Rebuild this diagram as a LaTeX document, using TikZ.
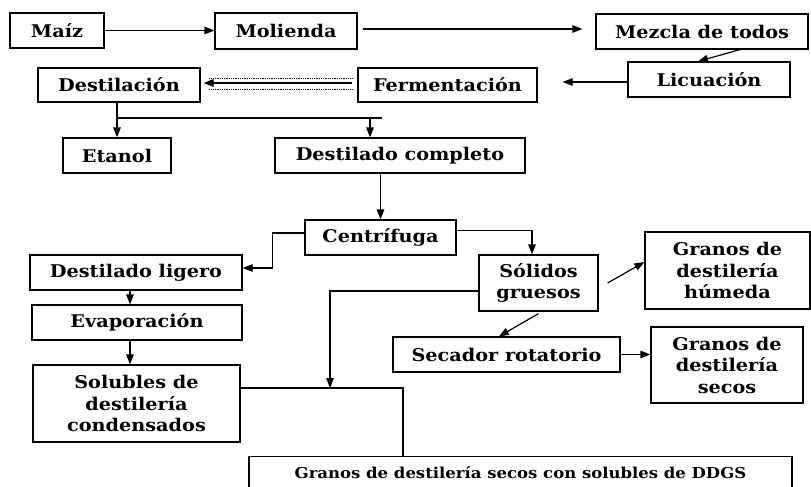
\documentclass[tikz,border=0pt]{standalone}
\usepackage{fontspec}
\setmainfont{DejaVu Serif}[FakeStretch=1.1]
\usetikzlibrary{arrows.meta,calc}
\begin{document}
\begin{tikzpicture}[x=1pt,y=-1pt,
  box/.style={draw=black, line width=1.2pt, inner sep=0pt, align=center,
    font=\fontsize{17.5}{21.5}\selectfont\bfseries, text=black},
  arr/.style={-{Triangle[length=10pt,width=7.5pt]}, line width=1.2pt},
  ln/.style={line width=1.2pt},
  dotl/.style={densely dotted, line width=0.8pt}]
\useasboundingbox (0,0) rectangle (811,487);
\fill[white] (0,0) rectangle (811,487);
% row 1
\node[box, minimum width=94pt, minimum height=35pt] (maiz) at (57,30.5) {Maíz};
\node[box, minimum width=142pt, minimum height=36pt] (molienda) at (286,31) {Molienda};
\node[box, minimum width=212pt, minimum height=35pt] (mezcla) at (702,31.5) {Mezcla de todos};
% row 2
\node[box, minimum width=162pt, minimum height=35pt] (licuacion) at (709,79.5) {Licuación};
\node[box, minimum width=179pt, minimum height=34pt] (ferment) at (447.5,85) {Fermentación};
\node[box, minimum width=162pt, minimum height=34pt] (destilacion) at (119,85) {Destilación};
% row 3
\node[box, minimum width=108pt, minimum height=35pt] (etanol) at (117,155.5) {Etanol};
\node[box, minimum width=250pt, minimum height=35pt] (destcomp) at (400,155.5) {Destilado completo};
% centrifuga
\node[box, minimum width=151pt, minimum height=35pt] (centrifuga) at (380.5,237.5) {Centrífuga};
% left column
\node[box, minimum width=212pt, minimum height=35pt] (destlig) at (136,272.5) {Destilado ligero};
\node[box, minimum width=210pt, minimum height=35pt] (evap) at (137,322.5) {Evaporación};
\node[box, minimum width=207pt, minimum height=77pt] (solubles) at (136.5,403.5) {Solubles de\\destilería\\condensados};
% right side
\node[box, minimum width=119pt, minimum height=56pt] (solidos) at (538.5,283) {Sólidos\\gruesos};
\node[box, minimum width=165pt, minimum height=77pt] (humeda) at (727.5,270.5) {Granos de\\destilería\\húmeda};
\node[box, minimum width=227pt, minimum height=35pt] (secador) at (506.5,354.5) {Secador rotatorio};
\node[box, minimum width=152pt, minimum height=76pt] (secos) at (727,365) {Granos de\\destilería\\secos};
% bottom
\node[box, font=\fontsize{15}{19}\selectfont\bfseries, minimum width=543pt, minimum height=33pt] (ddgs) at (520.5,473) {Granos de destilería secos con solubles de DDGS};
% coordinates
\coordinate (br) at (117,118);
\coordinate (brend) at (382,118);
\coordinate (brdrop) at (370,118);
\coordinate (mergept) at (330,388);
\coordinate (ddgsjoin) at (403,456.5);
% connectors
\draw[arr] (maiz.east) -- (maiz.east -| molienda.west);
\draw[arr, shorten >=13pt] ($(molienda.east)+(5,-2)$) -- ($(molienda.east -| mezcla.west)+(0,-2)$);
\draw[arr] ($(mezcla.south)+(38,0)$) -- ($(licuacion.north)+(-11,0)$);
\draw[arr, shorten >=25pt] ($(licuacion.west)+(0,2.5)$) -- ($(licuacion.west -| ferment.east)+(0,2.5)$);
\draw[arr, shorten <=5pt, shorten >=3pt] ($(ferment.west)+(0,-2)$) -- ($(destilacion.east)+(0,-2)$);
\draw[dotl, shorten <=5pt, shorten >=8pt] ($(ferment.west)+(0,-7)$) -- ($(destilacion.east)+(0,-7)$);
\draw[dotl, shorten <=5pt, shorten >=8pt] ($(ferment.west)+(0,4)$) -- ($(destilacion.east)+(0,4)$);
\draw[arr] (destilacion.south -| etanol.north) -- (etanol.north);
\draw[ln] (br) -- (brend);
\draw[arr] (brdrop) -- (brdrop |- destcomp.north);
\draw[arr] (destcomp.south -| centrifuga.north) -- (centrifuga.north);
\draw[arr] ($(centrifuga.west)+(0,-4.5)$) -- ++(-32,0) |- ($(destlig.east)+(0,-4.5)$);
\draw[arr] ($(centrifuga.east)+(0,-7)$) -| ($(solidos.north)+(-6.5,0)$);
\draw[arr] (destlig.south -| 130,0) -- (evap.north -| 130,0);
\draw[arr] (evap.south -| 130,0) -- (solubles.north -| 130,0);
\draw[arr] ($(solidos.west)+(0,8)$) -| (mergept);
\draw[ln] (solubles.east |- mergept) -| (ddgsjoin);
\draw[arr] ($(solidos.east)+(9,0)$) -- ($(humeda.west)+(0,-8.5)$);
\draw[arr] ($(solidos.south)+(0,2)$) -- ($(secador.north)+(-7.5,0)$);
\draw[arr] (secador.east) -- (secador.east -| secos.west);
\end{tikzpicture}
\end{document}
